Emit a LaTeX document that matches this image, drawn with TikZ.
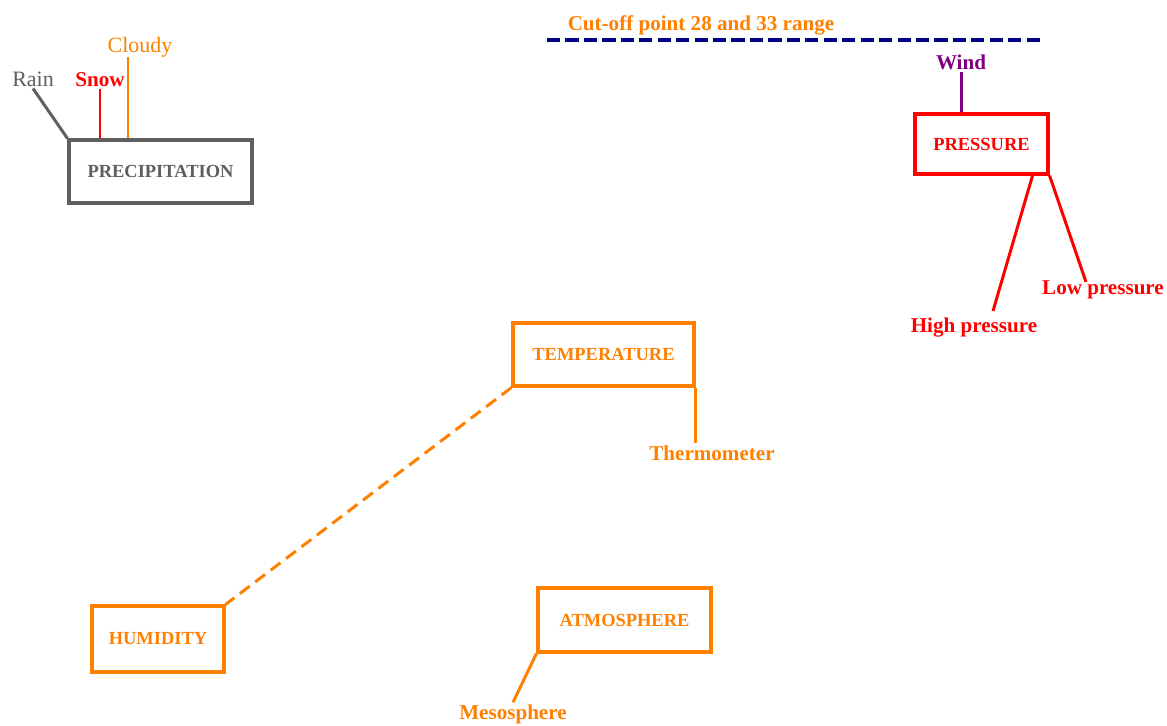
\documentclass[tikz,border=0pt]{standalone}
\usepackage{fontspec}
\setmainfont{Liberation Serif}

\definecolor{wxorange}{RGB}{255,128,0}
\definecolor{wxred}{RGB}{255,0,0}
\definecolor{wxgray}{RGB}{95,95,95}
\definecolor{wxpurple}{RGB}{128,0,128}
\definecolor{wxnavy}{RGB}{0,0,128}

\begin{document}
\begin{tikzpicture}[
  x=0.02cm, y=-0.02cm,
  box/.style={draw, line width=1.8pt, inner sep=0pt, font=\bfseries\fontsize{10.5}{12}\selectfont},
  lbl/.style={inner sep=1pt, font=\bfseries\fontsize{12}{14}\selectfont},
  plainlbl/.style={inner sep=1pt, font=\fontsize{12.5}{14}\selectfont},
  link/.style={line width=1.7pt},
  cut/.style={line width=2pt, dash pattern=on 7.5pt off 3pt}
]
\useasboundingbox (0,0) rectangle (1167,726);

% PRECIPITATION
\node[box, wxgray, minimum width=3.66cm, minimum height=1.26cm] (precip) at (160.5,171.5) {PRECIPITATION};
\node[plainlbl, wxgray] (rain) at (33,79) {Rain};
\node[lbl, wxred] (snow) at (100,80) {Snow};
\node[plainlbl, wxorange] (cloudy) at (140,47) {Cloudy};
\coordinate (cloudytop) at (128,57);

\draw[link, wxgray] (rain.south) -- (precip.north west);
\draw[link, wxred] (snow.south) -- (snow.south |- precip.north);
\draw[link, wxorange] (cloudytop) -- (cloudytop |- precip.north);

% CUT-OFF LINE
\node[lbl, wxorange] (cutoff) at (701,25) {Cut-off point 28 and 33 range};
\coordinate (cutL) at (547,40);
\coordinate (cutR) at (1040,40);
\draw[cut, wxnavy] (cutL) -- (cutR);

% PRESSURE
\node[box, wxred, minimum width=2.66cm, minimum height=1.2cm] (pressure) at (981.5,144) {PRESSURE};
\node[lbl, wxpurple] (wind) at (961,62) {Wind};
\node[lbl, wxred] (high) at (974,328) {High pressure};
\node[lbl, wxred] (low) at (1103,290) {Low pressure};
\coordinate (highroot) at (1033,174);
\coordinate (hightop) at (993,311);
\coordinate (lowtop) at (1086,282);

\draw[link, wxpurple] (wind.south) -- (wind.south |- pressure.north);
\draw[link, wxred] (highroot) -- (hightop);
\draw[link, wxred] (pressure.south east) -- (lowtop);

% TEMPERATURE
\node[box, wxorange, minimum width=3.62cm, minimum height=1.26cm] (temp) at (603.5,354.5) {TEMPERATURE};
\node[lbl, wxorange] (therm) at (712,453) {Thermometer};
\draw[link, wxorange] (temp.south east) -- (temp.south east |- therm.north);

% HUMIDITY
\node[box, wxorange, minimum width=2.64cm, minimum height=1.32cm] (humid) at (158,639) {HUMIDITY};
\draw[link, wxorange, dash pattern=on 7pt off 4pt] (temp.south west) -- (humid.north east);

% ATMOSPHERE
\node[box, wxorange, minimum width=3.46cm, minimum height=1.28cm] (atmos) at (624.5,620) {ATMOSPHERE};
\node[lbl, wxorange] (meso) at (513,714) {Mesosphere};
\draw[link, wxorange] (atmos.south west) -- (meso.north);

\end{tikzpicture}
\end{document}
